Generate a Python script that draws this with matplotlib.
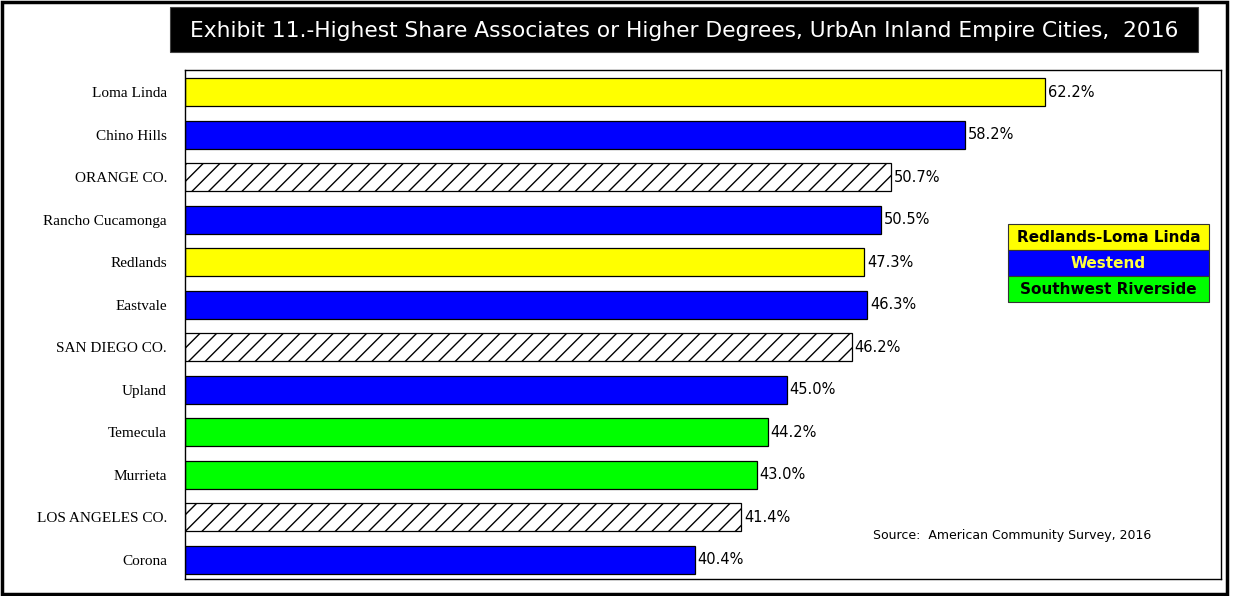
from matplotlib import pyplot as plt
from matplotlib.patches import Rectangle

# cities, top to bottom
cities = ['Loma Linda', 'Chino Hills', 'ORANGE CO.', 'Rancho Cucamonga', 'Redlands',
          'Eastvale', 'SAN DIEGO CO.', 'Upland', 'Temecula', 'Murrieta',
          'LOS ANGELES CO.', 'Corona']
# printed percentages
pct = [62.2, 58.2, 50.7, 50.5, 47.3, 46.3, 46.2, 45.0, 44.2, 43.0, 41.4, 40.4]
# bar lengths as drawn in the picture (they do not follow the printed numbers exactly)
bar_len = [62.3, 56.5, 51.1, 50.4, 49.2, 49.4, 48.3, 43.6, 42.2, 41.4, 40.3, 36.9]
# region of each city ('county' = hatched comparison bar)
region = ['rl', 'we', 'county', 'we', 'rl', 'we', 'county', 'we', 'sw', 'sw', 'county', 'we']

region_color = {'rl': '#ffff00', 'we': '#0000ff', 'sw': '#00ff00', 'county': 'white'}
legend_names = ['Redlands-Loma Linda', 'Westend', 'Southwest Riverside']
legend_keys = ['rl', 'we', 'sw']

fig = plt.figure(figsize=(12.33, 5.96), dpi=100)
ax = fig.add_axes([0.150, 0.0285, 0.840, 0.854])

ypos = list(range(len(cities)))
for i in ypos:
    hatch = '//' if region[i] == 'county' else None
    ax.barh(i, bar_len[i], height=0.66, color=region_color[region[i]],
            edgecolor='black', linewidth=0.9, hatch=hatch)
    ax.text(bar_len[i] + 0.2, i, '%.1f%%' % pct[i], va='center', ha='left',
            fontsize=10.5, family='DejaVu Sans')

ax.set_xlim(0, 75)
ax.set_ylim(11.45, -0.52)
ax.set_xticks([])
ax.set_yticks(ypos)
ax.set_yticklabels(cities, family='Liberation Serif', fontsize=11)
ax.tick_params(axis='y', length=0, pad=13)
for s in ax.spines.values():
    s.set_linewidth(1.0)

# legend as coloured rows
lx, ly, lw, lh = 0.8175, 0.5805, 0.163, 0.0436
for k, (name, key) in enumerate(zip(legend_names, legend_keys)):
    y0 = ly - k * lh
    fig.patches.append(Rectangle((lx, y0), lw, lh, transform=fig.transFigure,
                                 facecolor=region_color[key], edgecolor='#333333',
                                 linewidth=0.8))
    fig.text(lx + lw / 2, y0 + lh / 2, name, ha='center', va='center',
             fontsize=11, fontweight='bold', family='DejaVu Sans',
             color='#ffff40' if key == 'we' else 'black')

ax.text(0.664, 0.0864, 'Source:  American Community Survey, 2016', transform=ax.transAxes,
        fontsize=9, family='DejaVu Sans', va='center')

# title box
fig.patches.append(Rectangle((0.138, 0.913), 0.834, 0.075, transform=fig.transFigure,
                             facecolor='black', edgecolor='#444444', linewidth=0.8))
fig.text(0.555, 0.948,
         'Exhibit 11.-Highest Share Associates or Higher Degrees, UrbAn Inland Empire Cities,  2016',
         ha='center', va='center', color='white', fontsize=15.7, family='DejaVu Sans')

# outer frame
fig.patches.append(Rectangle((0.002, 0.004), 0.993, 0.992, transform=fig.transFigure,
                             facecolor='none', edgecolor='black', linewidth=2.5))

plt.savefig('out.png', dpi=100)
